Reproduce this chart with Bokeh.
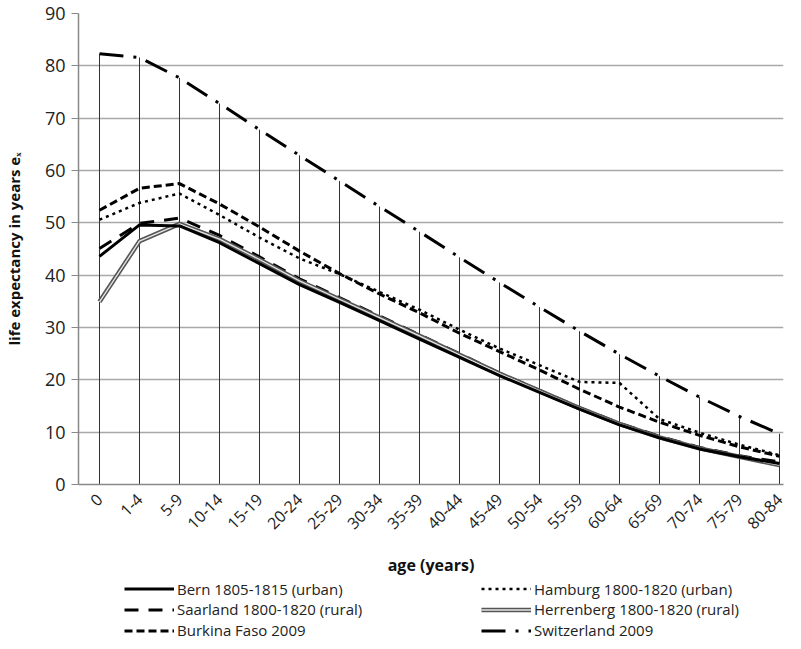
import math
from bokeh.plotting import figure
from bokeh.layouts import column
from bokeh.models import Range1d, FixedTicker, Legend, LegendItem
from bokeh.embed import file_html
from bokeh.resources import INLINE

ages = ["0", "1-4", "5-9", "10-14", "15-19", "20-24", "25-29", "30-34", "35-39",
        "40-44", "45-49", "50-54", "55-59", "60-64", "65-69", "70-74", "75-79", "80-84"]

bern = [43.6, 49.6, 49.4, 46.2, 42.2, 38.2, 34.8, 31.3, 27.8, 24.3, 20.8, 17.6, 14.4, 11.4, 8.9, 6.8, 5.3, 4.0]
hamburg = [50.6, 53.8, 55.6, 51.5, 47.2, 43.2, 40.2, 36.8, 33.4, 29.6, 26.0, 22.8, 19.6, 19.4, 12.5, 9.9, 7.6, 5.6]
saarland = [45.1, 49.9, 50.9, 47.6, 43.5, 39.3, 35.7, 32.2, 28.6, 25.0, 21.3, 18.0, 14.7, 11.7, 9.2, 7.1, 5.5, 4.3]
herrenberg = [34.9, 46.5, 49.8, 46.9, 43.0, 38.9, 35.4, 31.9, 28.4, 24.8, 21.2, 17.9, 14.6, 11.6, 9.0, 6.9, 5.3, 3.7]
burkina = [52.4, 56.6, 57.5, 53.6, 49.2, 44.6, 40.3, 36.4, 32.8, 28.9, 25.4, 21.9, 18.2, 14.8, 11.9, 9.4, 7.2, 5.4]
switzerland = [82.3, 81.6, 77.7, 72.8, 67.8, 62.9, 58.0, 53.1, 48.3, 43.4, 38.6, 33.9, 29.3, 24.9, 20.7, 16.7, 13.0, 9.7]

y_ticks = [0, 10, 20, 30, 40, 50, 60, 70, 80, 90]

x = list(range(len(ages)))

FONT = "Open Sans"

# line styles per series
styles = {
    "bern": dict(line_color="black", line_width=3),
    "hamburg": dict(line_color="black", line_width=2.5, line_dash="3 4"),
    "saarland": dict(line_color="black", line_width=3, line_dash="14 10"),
    "herr_out": dict(line_color="#555555", line_width=4.5),
    "herr_in": dict(line_color="#e6e6e6", line_width=1.3),
    "burkina": dict(line_color="black", line_width=3, line_dash="8 4"),
    "swiss": dict(line_color="black", line_width=3, line_dash="24 10 3 10"),
}

FRAME_W = 705
LEFT = 74
RIGHT = 6

p = figure(frame_width=FRAME_W, frame_height=471,
           x_range=Range1d(-0.525, 17.1), y_range=Range1d(0, 90),
           output_backend="svg", toolbar_location=None,
           min_border_top=13, min_border_right=RIGHT, min_border_left=LEFT, min_border_bottom=86)
p.outline_line_color = None
p.background_fill_color = "white"
p.border_fill_color = "white"

# grid
p.xgrid.grid_line_color = None
p.ygrid.grid_line_color = "#a8a8a8"
p.ygrid.grid_line_width = 1.5
p.ygrid.ticker = FixedTicker(ticks=y_ticks)

# y axis
p.yaxis.ticker = FixedTicker(ticks=y_ticks)
p.yaxis.minor_tick_line_color = None
p.yaxis.major_tick_in = 0
p.yaxis.major_tick_out = 7
p.yaxis.major_tick_line_color = "#888888"
p.yaxis.axis_line_color = "#888888"
p.yaxis.axis_line_width = 1.5
p.yaxis.major_label_text_font = FONT
p.yaxis.major_label_text_font_size = "18px"
p.yaxis.major_label_text_color = "#222222"
p.yaxis.major_label_standoff = 6
p.yaxis.axis_label = "life expectancy in years e\u2093"
p.yaxis.axis_label_text_font = FONT
p.yaxis.axis_label_text_font_style = "bold"
p.yaxis.axis_label_text_font_size = "15px"
p.yaxis.axis_label_text_color = "#111111"
p.yaxis.axis_label_standoff = 18

# x axis
p.xaxis.ticker = FixedTicker(ticks=x)
p.xaxis.major_label_overrides = {i: a for i, a in enumerate(ages)}
p.xaxis.major_label_orientation = math.pi / 4
p.xaxis.minor_tick_line_color = None
p.xaxis.major_tick_in = 0
p.xaxis.major_tick_out = 0
p.xaxis.axis_line_color = "#888888"
p.xaxis.axis_line_width = 1.5
p.xaxis.major_label_text_font = FONT
p.xaxis.major_label_text_font_size = "16px"
p.xaxis.major_label_text_color = "#222222"
p.xaxis.major_label_standoff = 12
p.xaxis.axis_label = "age (years)"
p.xaxis.axis_label_text_font = FONT
p.xaxis.axis_label_text_font_style = "bold"
p.xaxis.axis_label_text_font_size = "16px"
p.xaxis.axis_label_text_color = "#111111"
p.xaxis.axis_label_standoff = 16

# drop lines from the highest series
p.segment(x0=x, y0=[0] * len(x), x1=x, y1=switzerland, line_color="#333333", line_width=1)

p.line(x, switzerland, **styles["swiss"])
p.line(x, burkina, **styles["burkina"])
p.line(x, hamburg, **styles["hamburg"])
p.line(x, saarland, **styles["saarland"])
p.line(x, herrenberg, **styles["herr_out"])
p.line(x, herrenberg, **styles["herr_in"])
p.line(x, bern, **styles["bern"])

# legend strip below the chart (its own view range keeps the proxy lines out of sight)
lg = figure(frame_width=FRAME_W, frame_height=62, x_range=Range1d(0, 1), y_range=Range1d(-2, -1),
            x_axis_type=None, y_axis_type=None,
            output_backend="svg", toolbar_location=None,
            min_border_top=0, min_border_right=RIGHT, min_border_left=LEFT, min_border_bottom=0)
lg.outline_line_color = None
lg.xgrid.visible = False
lg.ygrid.visible = False
lg.background_fill_color = "white"
lg.border_fill_color = "white"

k_be = lg.line(x, bern, **styles["bern"])
k_hb = lg.line(x, hamburg, **styles["hamburg"])
k_sa = lg.line(x, saarland, **styles["saarland"])
k_h1 = lg.line(x, herrenberg, **styles["herr_out"])
k_h2 = lg.line(x, herrenberg, **styles["herr_in"])
k_bf = lg.line(x, burkina, **styles["burkina"])
k_sw = lg.line(x, switzerland, **styles["swiss"])

common = dict(glyph_width=50, glyph_height=17, label_height=17,
              label_standoff=3, spacing=0, padding=0, margin=0,
              label_text_font=FONT, label_text_font_size="15px", label_text_color="#222222",
              border_line_color=None, background_fill_alpha=0)

entries = [
    ("Bern 1805-1815 (urban)", [k_be], 46, 41.4),
    ("Saarland 1800-1820 (rural)", [k_sa], 46, 20.7),
    ("Burkina Faso 2009", [k_bf], 46, 0),
    ("Hamburg 1800-1820 (urban)", [k_hb], 403, 41.4),
    ("Herrenberg 1800-1820 (rural)", [k_h1, k_h2], 403, 20.7),
    ("Switzerland 2009", [k_sw], 403, 0),
]
for label, rends, lx, ly in entries:
    lg.add_layout(Legend(items=[LegendItem(label=label, renderers=rends)],
                         location=(lx, ly), **common), "center")

layout = column(p, lg, spacing=0)
open("out.html", "w").write(file_html(layout, INLINE))
